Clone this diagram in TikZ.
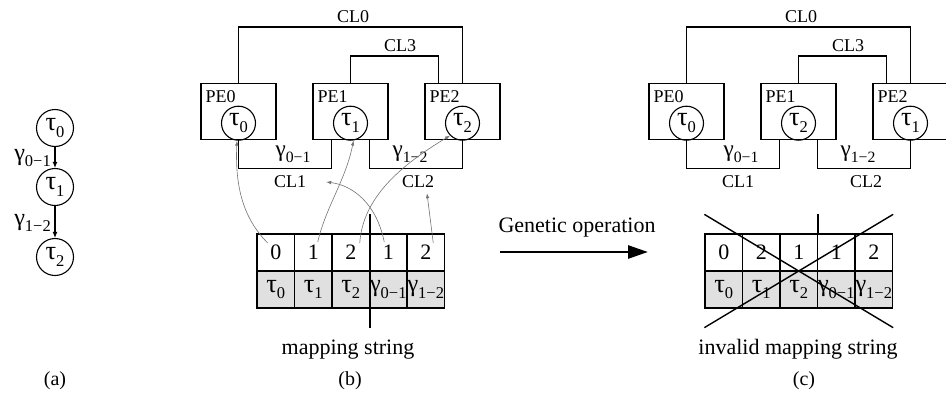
\documentclass[tikz,border=0pt]{standalone}
\usepackage{fontspec}
\setmainfont{Liberation Serif}
\usepackage{graphicx}
\usetikzlibrary{arrows.meta,calc}

% lowered, shrunk index after a Greek letter
\newcommand\lowr[1]{\raisebox{-0.3em}{\scalebox{0.75}{#1}}}
\newcommand\tsk[1]{\scalebox{1.2}{τ}\lowr{#1}}
\newcommand\edg[1]{\scalebox{1.1}{γ}\lowr{#1}}
\newcommand\fs[1]{\fontsize{#1}{#1}\selectfont}

% three processing elements joined by the links CL0..CL3
% #1 name prefix, #2 horizontal offset, #3-#5 tasks held by PE0..PE2
\newcommand\platform[5]{%
  \begin{scope}[xshift=#2pt]
    \node[pebox] (#1pe0) at (238.5,111.5) {};
    \node[pebox] (#1pe1) at (350.5,111.5) {};
    \node[pebox] (#1pe2) at (462.5,111.5) {};
    \foreach \i/\t in {0/#3,1/#4,2/#5} {
      \node[lbl, anchor=west] at ([xshift=5pt,yshift=-14pt]#1pe\i.north west) {PE\i};
      \node[task, minimum size=34pt] (#1t\i) at ([yshift=17pt]#1pe\i.south) {\tsk{\t}};
    }
    \draw[link] (#1pe0.north) -- ++(0,-56) -| (#1pe2.north);
    \draw[link] (#1pe1.north) -- ++(0,-27) -| ([xshift=14pt]#1pe2.north west);
    \draw[link] (#1pe0.south) -- ++(0,28) -| ([xshift=19pt]#1pe1.south west);
    \draw[link] ([xshift=-19pt]#1pe1.south east) -- ++(0,28) -| (#1pe2.south);
    \node[lbl] (#1cl0) at (353,17) {CL0};
    \node[lbl] (#1cl3) at (400,46) {CL3};
    \node[lbl] (#1cl1) at (290,182) {CL1};
    \node[lbl] (#1cl2) at (418,182) {CL2};
    \node[lbl, font=\fs{21}] (#1e01) at (293,154) {\edg{0−1}};
    \node[lbl, font=\fs{21}] (#1e12) at (410,154) {\edg{1−2}};
  \end{scope}}

% the mapping string: PE indices above, tasks and edges below
% #1 name prefix, #2 horizontal offset, #3-#7 the five indices
\newcommand\mapstring[7]{%
  \begin{scope}[xshift=#2pt]
    \foreach \d [count=\k] in {#3,#4,#5,#6,#7}
      \node[cell] (#1c\k) at (238.25+37.5*\k,252.5) {\d};
    \foreach \g [count=\k] in {\tsk0,\tsk1,\tsk2,\edg{0−1},\edg{1−2}}
      \node[cell, fill=black!12] (#1g\k) at (238.25+37.5*\k,289.5) {\g};
  \end{scope}}

\begin{document}
\begin{tikzpicture}[x=1pt,y=-1pt,
  lbl/.style={font=\fs{18}, inner sep=0pt},
  pebox/.style={draw, line width=1.4pt, minimum width=75pt, minimum height=56pt, inner sep=0pt},
  task/.style={draw, circle, line width=1.1pt, inner sep=0pt, font=\fs{22}},
  link/.style={line width=1.4pt},
  cell/.style={draw, line width=1.3pt, minimum width=37.5pt, minimum height=37pt, inner sep=0pt, font=\fs{22}},
  maparrow/.style={draw=black!55, line width=0.6pt, -{Latex[length=5pt,width=3.5pt]}},
  chainarrow/.style={line width=1.1pt, -{Latex[length=6pt,width=5pt]}},
  caption/.style={font=\fs{22}, inner sep=0pt},
  tag/.style={font=\fs{20}, inner sep=0pt}]
\useasboundingbox (0,0) rectangle (946,397);

% (a) task graph
\node[task, minimum size=37pt] (a0) at (55,128) {\tsk0};
\node[task, minimum size=37pt] (a1) at (55,187) {\tsk1};
\node[task, minimum size=37pt] (a2) at (55,257) {\tsk2};
\draw[chainarrow] (a0) -- (a1);
\draw[chainarrow] (a1) -- (a2);
\node[lbl, font=\fs{22}, anchor=east] (ae01) at (51,158) {\edg{0−1}};
\node[lbl, font=\fs{22}, anchor=east] (ae12) at (51,223) {\edg{1−2}};

% (b) valid mapping
\platform{b}{0}{0}{1}{2}
\mapstring{b}{0}{0}{1}{2}{1}{2}
\draw[link] ($(bc3.north east)+(0,-19)$) -- ($(bg3.south east)+(0,19)$);
\draw[maparrow] ([shift={(-8,-9.5)}]bc1.center) .. controls +(-25,-25) and +(-2,45) .. (bt0.-95);
\draw[maparrow] ([shift={(4.5,-10.5)}]bc2.center) .. controls +(8,-35) and +(-8,40) .. (bt1.-80);
\draw[maparrow] ([shift={(9,-9.5)}]bc3.center) .. controls +(3,-45) and +(-50,30) .. (bt2.-135);
\draw[maparrow] ([shift={(-4,-10.5)}]bc4.center) .. controls +(-8,-40) and +(25,3) .. ([xshift=20pt]bcl1.east);
\draw[maparrow] ([shift={(7.5,-9.5)}]bc5.center) -- ([shift={(9,5)}]bcl2.south);
\node[caption] (bname) at (348,350) {mapping string};
\node[tag] (btag) at (350,381) {(b)};

% genetic operation
\node[caption] (gop) at (577,228) {Genetic operation};
\coordinate (gs) at (500,252);
\coordinate (ge) at (648,252);
\draw[line width=2.7pt, -{Triangle[length=20pt,width=13pt]}] (gs) -- (ge);

% (c) mapping after the operation
\platform{c}{448}{0}{2}{1}
\mapstring{c}{448}{0}{2}{1}{1}{2}
\draw[link] ($(cc3.north east)+(0,-19)$) -- (cc3.north east);
\draw[link] ($(cc1.north west)+(0,-19)$) -- ($(cg5.south east)+(0,19)$);
\draw[link] ($(cg1.south west)+(0,19)$) -- ($(cc5.north east)+(0,-19)$);
\node[caption] (cname) at (798,349) {invalid mapping string};
\node[tag] (ctag) at (804,381) {(c)};

\node[tag] (atag) at (55,381) {(a)};
\end{tikzpicture}
\end{document}
